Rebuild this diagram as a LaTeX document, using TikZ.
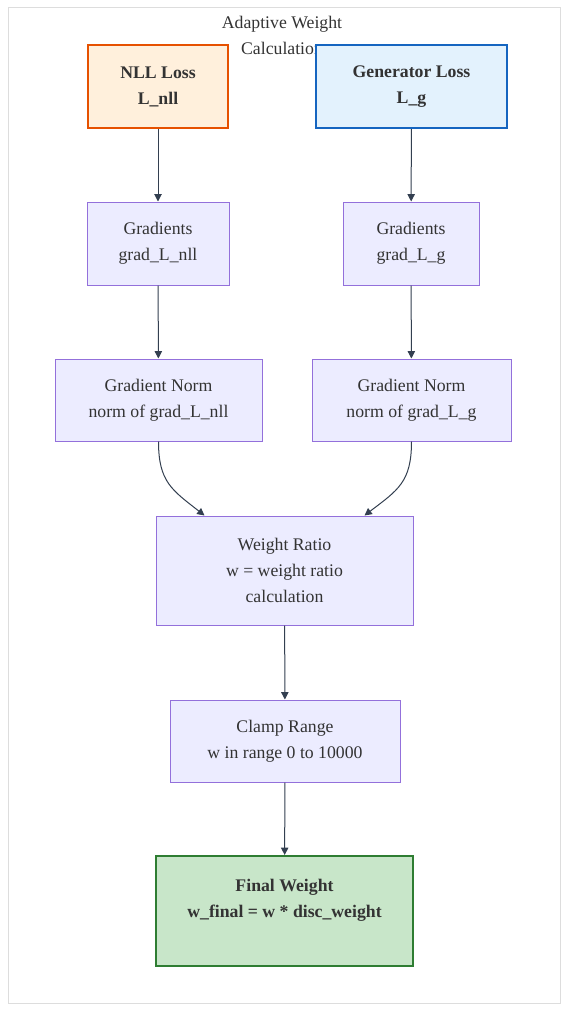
\documentclass[tikz,border=0pt]{standalone}
\usepackage{fontspec}
\setmainfont{Liberation Serif}
\usetikzlibrary{arrows.meta}
\definecolor{awTexto}{HTML}{333333}
\definecolor{awLinea}{HTML}{333F50}
\definecolor{awMarco}{HTML}{DDDDDD}
\definecolor{awNaranja}{HTML}{E65100}
\definecolor{awNaranjaF}{HTML}{FFF0DC}
\definecolor{awAzul}{HTML}{1565C0}
\definecolor{awAzulF}{HTML}{E3F2FD}
\definecolor{awMorado}{HTML}{9370DB}
\definecolor{awMoradoF}{HTML}{ECECFF}
\definecolor{awVerde}{HTML}{2E7D32}
\definecolor{awVerdeF}{HTML}{C8E6C9}

\begin{document}
\begin{tikzpicture}[x=0.75pt, y=-0.75pt,
      every node/.style={align=center, text=awTexto, font=\fontsize{13.3}{19.5}\selectfont},
      caja/.style={draw=#1, fill=#1F, line width=1.5pt, font=\fontsize{13.3}{19.5}\selectfont\bfseries},
      paso/.style={draw=awMorado, fill=awMoradoF, line width=0.75pt},
      flecha/.style={-{Triangle[length=5.5pt,width=5.5pt]}, draw=awLinea, line width=0.75pt}]
    \useasboundingbox (0,0) rectangle (576,1024);
    \draw[awMarco, line width=0.75pt] (8,8) rectangle (560,1003);
    % titulo
    \node (tit) at (282,35) {Adaptive Weight\\ Calculation};
    % perdidas
    \node[caja=awNaranja, minimum width=105pt, minimum height=62.25pt] (nll) at (158,86.5) {NLL Loss\\ L\_nll};
    \node[caja=awAzul, minimum width=143.25pt, minimum height=62.25pt] (gen) at (411.5,86.5) {Generator Loss\\ L\_g};
    % gradientes y normas
    \node[paso, minimum width=106.5pt, minimum height=62.25pt] (g1) at (158,243.5) {Gradients\\ grad\_L\_nll};
    \node[paso, minimum width=102pt, minimum height=62.25pt] (g2) at (411,243.5) {Gradients\\ grad\_L\_g};
    \node[paso, minimum width=155.25pt, minimum height=61.5pt] (n1) at (158.5,400) {Gradient Norm\\ norm of grad\_L\_nll};
    \node[paso, minimum width=149.25pt, minimum height=61.5pt] (n2) at (411.5,400) {Gradient Norm\\ norm of grad\_L\_g};
    % peso
    \node[paso, minimum width=192.75pt, minimum height=81.75pt] (ratio) at (284.5,570.5) {Weight Ratio\\ w = weight ratio\\ calculation};
    \node[paso, minimum width=172.5pt, minimum height=61.5pt] (clamp) at (285,741) {Clamp Range\\ w in range 0 to 10000};
    \node[caja=awVerde, minimum width=192.75pt, minimum height=82.5pt] (final) at (284.5,911) {Final Weight\\ w\_final = w * disc\_weight\\ ~};
    % conexiones
    \draw[flecha] (nll)--(g1); \draw[flecha] (g1)--(n1);
    \draw[flecha] (gen)--(g2); \draw[flecha] (g2)--(n2);
    \draw[flecha] (n1.south) .. controls (158.5,482) and (172,490) .. ([xshift=36.75pt]ratio.north west);
    \draw[flecha] (n2.south) .. controls (411.5,482) and (398,490) .. ([xshift=-36.75pt]ratio.north east);
    \draw[flecha] (ratio)--(clamp); \draw[flecha] (clamp)--(final);
  \end{tikzpicture}
\end{document}
